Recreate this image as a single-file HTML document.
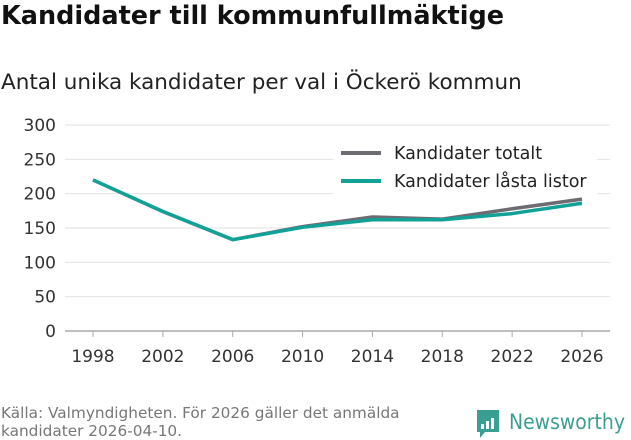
<!DOCTYPE html>
<html><head><meta charset="utf-8"><style>
body{margin:0;width:631px;height:439px;background:#fff;font-family:"DejaVu Sans","Liberation Sans",sans-serif;overflow:hidden;position:relative}
.t{position:absolute;left:1px;top:1px;font-size:25.5px;font-weight:bold;color:#111}
.s{position:absolute;left:1px;top:70px;font-size:21.5px;color:#222}
.f{position:absolute;left:1px;top:404px;font-size:15.3px;color:#777;line-height:18px}
svg{position:absolute;left:0;top:0}
</style></head><body>
<div class="t">Kandidater till kommunfullmäktige</div>
<div class="s">Antal unika kandidater per val i Öckerö kommun</div>
<div class="f">Källa: Valmyndigheten. För 2026 gäller det anmälda<br>kandidater 2026-04-10.</div>
<svg id="c" width="631" height="439"></svg>
<script>
const years=[1998,2002,2006,2010,2014,2018,2022,2026];
const totalt=[220,174,133,152,166,163,178,192];
const lasta=[220,174,133,151,162,162,171,186];
const yTicks=[0,50,100,150,200,250,300];
const NS="http://www.w3.org/2000/svg";
const svg=document.getElementById('c');
const x=v=>93+(v-1998)*(582-93)/28;
const y=v=>331-v*(331-125)/300;
function el(t,a,p){const e=document.createElementNS(NS,t);for(const k in a)e.setAttribute(k,a[k]);(p||svg).appendChild(e);return e;}
yTicks.forEach(v=>{
 const g=el('line',{x1:65,x2:610,y1:y(v),y2:y(v),stroke:v===0?'#aaa':'#e2e2e2','stroke-width':v===0?1.5:1});
 
 
 const t=el('text',{x:56,y:y(v)+6,'text-anchor':'end','font-size':17,fill:'#333'});t.textContent=v;
 
 
});
years.forEach(v=>{
 const k=el('line',{x1:x(v),x2:x(v),y1:331,y2:337,stroke:'#aaa'});
 
 
 const t=el('text',{x:x(v),y:362,'text-anchor':'middle','font-size':17,fill:'#333'});t.textContent=v;
 
 
});
const lg=el('rect',{x:333,y:140,width:264,height:55,fill:'#fff'});


function line(vals,color,name){
 const p=el('polyline',{points:vals.map((v,i)=>x(years[i])+','+y(v)).join(' '),fill:'none',stroke:color,'stroke-width':3.5,'stroke-linejoin':'round'});
 
 
}
line(totalt,'#6e6b73','series-totalt');
line(lasta,'#12a196','series-lasta-listor');
[['#6e6b73','Kandidater totalt',153],['#12a196','Kandidater låsta listor',181]].forEach(([c,l,yy])=>{
 const s=el('line',{x1:341,x2:381,y1:yy,y2:yy,stroke:c,'stroke-width':4});
 
 
 const t=el('text',{x:394,y:yy+6,'font-size':17.5,fill:'#222'});t.textContent=l;
 
 
});
const logo=el('g',{});


el('path',{d:'M477 410h22v22h-14l-5 6v-6h-3z',fill:'#3a9e93'},logo);
[[481,424,3,5],[486,421,3,8],[491,418,3,11]].forEach(b=>el('rect',{x:b[0],y:b[1],width:b[2],height:b[3],fill:'#fff'},logo));
const lt=el('text',{x:509,y:429,'font-size':21,fill:'#3a9e93',textLength:116,lengthAdjust:'spacingAndGlyphs','font-family':'DejaVu Sans, sans-serif'},logo);lt.textContent='Newsworthy';
</script>
</body></html>
